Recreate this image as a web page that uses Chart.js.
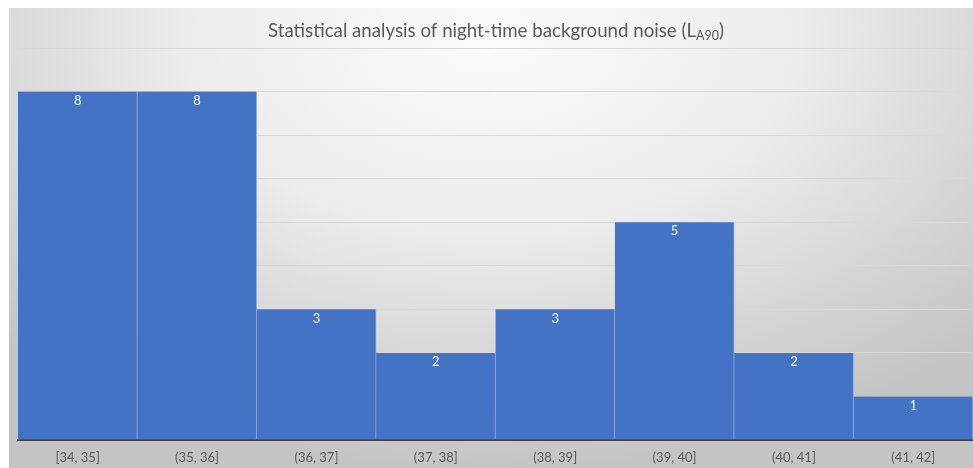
<!DOCTYPE html>
<html lang="en">
<head>
  <meta charset="UTF-8">
  <title>Night-time background noise</title>
  <script src="https://cdn.jsdelivr.net/npm/chart.js"></script>
  <style>
    html, body { margin: 0; padding: 0; background: #fff; }
    #wrap { width: 973px; height: 468px; position: relative; }
  </style>
</head>
<body>
  <div id="wrap"><canvas id="noiseChart"></canvas></div>
  <script>
    // histogram bins (dB) and counts
    const bins = ['[34, 35]', '(35, 36]', '(36, 37]', '(37, 38]', '(38, 39]', '(39, 40]', '(40, 41]', '(41, 42]'];
    const counts = [8, 8, 3, 2, 3, 5, 2, 1];
    const titleMain = 'Statistical analysis of night-time background noise (L';
    const titleSub = 'A90';
    const titleEnd = ')';

    const FONT = 'Lato, "Liberation Sans", sans-serif';

    // grey radial backdrop like the Excel chart area
    const backdrop = {
      id: 'backdrop',
      beforeDraw(chart) {
        const ctx = chart.ctx;
        const w = chart.width, h = chart.height;
        ctx.save();
        ctx.fillStyle = '#ffffff';
        ctx.fillRect(0, 0, w, h);
        ctx.translate(490, 40);
        ctx.scale(1.6, 1);
        const g = ctx.createRadialGradient(0, 0, 0, 0, 0, 430);
        g.addColorStop(0, '#fbfbfb');
        g.addColorStop(0.45, '#ececec');
        g.addColorStop(1, '#c4c4c4');
        ctx.fillStyle = g;
        ctx.fillRect((9 - 490) / 1.6, 8 - 40, (w - 9) / 1.6, h - 8);
        ctx.restore();
      }
    };

    // title with subscript
    const titleWithSub = {
      id: 'titleWithSub',
      afterDraw(chart) {
        const ctx = chart.ctx;
        ctx.save();
        ctx.fillStyle = '#595959';
        ctx.textBaseline = 'alphabetic';
        ctx.font = '18.7px ' + FONT;
        const w1 = ctx.measureText(titleMain).width;
        ctx.font = '12.5px ' + FONT;
        const w2 = ctx.measureText(titleSub).width;
        ctx.font = '18.7px ' + FONT;
        const w3 = ctx.measureText(titleEnd).width;
        let x = 496 - (w1 + w2 + w3) / 2;
        const y = 37;
        ctx.textAlign = 'left';
        ctx.fillText(titleMain, x, y);
        x += w1;
        ctx.font = '12.5px ' + FONT;
        ctx.fillText(titleSub, x, y + 3);
        x += w2;
        ctx.font = '18.7px ' + FONT;
        ctx.fillText(titleEnd, x, y);
        ctx.restore();
      }
    };

    // value labels inside the top of each bar
    const barValues = {
      id: 'barValues',
      afterDatasetsDraw(chart) {
        const ctx = chart.ctx;
        const meta = chart.getDatasetMeta(0);
        ctx.save();
        ctx.fillStyle = '#ffffff';
        ctx.font = '13px ' + FONT;
        ctx.textAlign = 'center';
        ctx.textBaseline = 'middle';
        meta.data.forEach((bar, i) => {
          ctx.fillText(String(counts[i]), bar.x, bar.y + 9);
        });
        ctx.restore();
      }
    };

    new Chart(document.getElementById('noiseChart'), {
      type: 'bar',
      data: {
        labels: bins,
        datasets: [{
          data: counts,
          backgroundColor: '#4472C4',
          borderColor: '#98b0de',
          borderWidth: { top: 0, left: 0, bottom: 0, right: 1 },
          borderSkipped: false,
          categoryPercentage: 1.0,
          barPercentage: 1.0
        }]
      },
      options: {
        responsive: true,
        maintainAspectRatio: false,
        animation: false,
        layout: { padding: { top: 48, left: 18, right: 0, bottom: 0 } },
        plugins: {
          legend: { display: false },
          title: { display: false },
          tooltip: { enabled: false }
        },
        scales: {
          x: {
            grid: { display: false, drawTicks: false },
            border: { display: true, color: '#404040', width: 2 },
            ticks: { color: '#595959', font: { family: FONT, size: 13 }, padding: 10, maxRotation: 0 },
            afterFit: (scale) => { scale.height = 28; }
          },
          y: {
            min: 0,
            max: 9,
            ticks: { display: false, stepSize: 1 },
            border: { display: false },
            grid: { color: '#d9d9d9', lineWidth: 1, drawTicks: false }
          }
        }
      },
      plugins: [backdrop, titleWithSub, barValues]
    });
  </script>
</body>
</html>
